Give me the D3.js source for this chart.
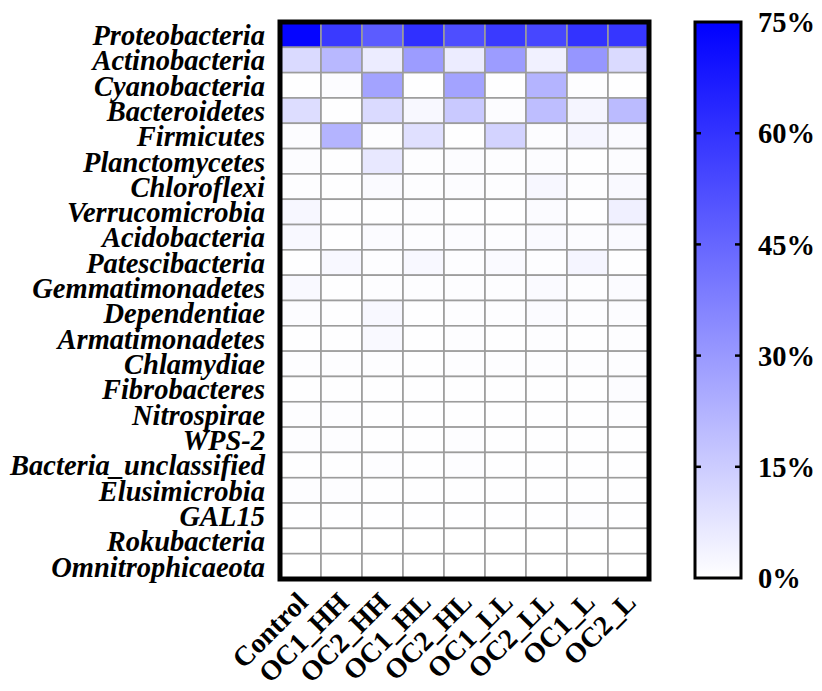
<!DOCTYPE html>
<html>
<head>
<meta charset="utf-8">
<script src="https://cdn.jsdelivr.net/npm/d3@7"></script>
<style>
  body { margin: 0; background: #fff; }
  text { font-family: "Liberation Serif", "Times New Roman", serif; font-weight: bold; }
</style>
</head>
<body>
<div id="chart"></div>
<script>
const groups = ["Control", "OC1_HH", "OC2_HH", "OC1_HL", "OC2_HL", "OC1_LL", "OC2_LL", "OC1_L", "OC2_L"];

const phyla = [
  "Proteobacteria", "Actinobacteria", "Cyanobacteria", "Bacteroidetes", "Firmicutes",
  "Planctomycetes", "Chloroflexi", "Verrucomicrobia", "Acidobacteria", "Patescibacteria",
  "Gemmatimonadetes", "Dependentiae", "Armatimonadetes", "Chlamydiae", "Fibrobacteres",
  "Nitrospirae", "WPS-2", "Bacteria_unclassified", "Elusimicrobia", "GAL15",
  "Rokubacteria", "Omnitrophicaeota"
];

// relative abundance (%), one array per phylum, in group order
const proteobacteria = [73.5, 58, 48, 61, 52, 58, 54, 60, 59];
const actinobacteria = [11, 21, 5.5, 29, 5.5, 29, 4, 31, 11];
const cyanobacteria = [0.3, 0.8, 27, 0.3, 27, 0.3, 22, 0.6, 0.4];
const bacteroidetes = [10, 0.4, 11, 2, 16, 0.9, 19, 3, 20];
const firmicutes = [0.9, 22, 0.6, 9, 0.3, 13, 0.9, 3, 1.5];
const planctomycetes = [0.9, 0.3, 6.8, 0.5, 0.8, 0.6, 1.0, 0.4, 0.9];
const chloroflexi = [0.5, 0.2, 1.5, 0.6, 0.8, 0.7, 2.4, 0.5, 1.8];
const verrucomicrobia = [2.4, 0.2, 0.4, 0.5, 0.4, 0.4, 1.2, 0.4, 4.5];
const acidobacteria = [2.0, 0.3, 1.2, 0.7, 1.0, 0.7, 1.4, 0.8, 1.5];
const patescibacteria = [0.4, 2.0, 0.5, 2.0, 0.5, 1.5, 0.6, 3.0, 0.4];
const gemmatimonadetes = [1.8, 0.3, 0.6, 0.5, 0.7, 0.5, 1.6, 0.6, 1.3];
const dependentiae = [0.9, 0.2, 2.0, 0.4, 0.6, 0.6, 1.1, 0.6, 1.0];
const armatimonadetes = [0.4, 0.2, 1.8, 0.3, 0.6, 0.4, 0.5, 0.3, 0.5];
const chlamydiae = [0.6, 0.5, 0.5, 0.4, 0.5, 0.5, 0.5, 0.5, 0.5];
const fibrobacteres = [0.3, 0.2, 0.3, 0.3, 0.4, 0.3, 0.4, 0.3, 0.8];
const nitrospirae = [0.5, 0.6, 0.3, 0.3, 0.4, 0.3, 0.4, 0.4, 0.5];
const wps2 = [0.6, 0.6, 0.3, 0.2, 0.5, 0.2, 0.4, 0.3, 0.4];
const bacteriaUnclassified = [0.3, 0.2, 0.5, 0.2, 0.5, 0.2, 0.4, 0.2, 0.4];
const elusimicrobia = [0.5, 0.5, 0.2, 0.2, 0.2, 0.2, 0.2, 0.2, 0.2];
const gal15 = [0.2, 0.2, 0.2, 0.2, 0.2, 0.2, 0.2, 0.5, 0.2];
const rokubacteria = [0.1, 0.1, 0.1, 0.1, 0.1, 0.1, 0.1, 0.1, 0.1];
const omnitrophicaeota = [0.1, 0.1, 0.1, 0.1, 0.1, 0.1, 0.1, 0.1, 0.1];

const abundance = [
  proteobacteria, actinobacteria, cyanobacteria, bacteroidetes, firmicutes,
  planctomycetes, chloroflexi, verrucomicrobia, acidobacteria, patescibacteria,
  gemmatimonadetes, dependentiae, armatimonadetes, chlamydiae, fibrobacteres,
  nitrospirae, wps2, bacteriaUnclassified, elusimicrobia, gal15,
  rokubacteria, omnitrophicaeota
];

const legendTicks = [0, 15, 30, 45, 60, 75];

const width = 822;
const height = 691;

const colorScale = d3.scaleLinear().domain([0, 75]).range(["#ffffff", "#0000ff"]).clamp(true);

drawChart();

function drawChart() {
  const svg = d3
    .select("#chart")
    .append("svg")
    .attr("width", width)
    .attr("height", height);

  const x = d3.scaleBand().domain(groups).range([280, 649]);
  const y = d3.scaleBand().domain(phyla).range([22, 579]);

  const cells = [];
  abundance.forEach((row, i) => {
    row.forEach((v, j) => {
      cells.push({ phylum: phyla[i], group: groups[j], value: v });
    });
  });

  svg
    .append("g")
    .selectAll("rect")
    .data(cells)
    .enter()
    .append("rect")
    .attr("x", (d) => x(d.group))
    .attr("y", (d) => y(d.phylum))
    .attr("width", x.bandwidth())
    .attr("height", y.bandwidth())
    .attr("fill", (d) => colorScale(d.value))
    .attr("stroke", "#9c9c9c")
    .attr("stroke-width", 1.6);

  // outer frame
  svg
    .append("rect")
    .attr("x", 280)
    .attr("y", 22)
    .attr("width", 369)
    .attr("height", 557)
    .attr("fill", "none")
    .attr("stroke", "#000")
    .attr("stroke-width", 5);

  // row labels
  svg
    .append("g")
    .selectAll("text")
    .data(phyla)
    .enter()
    .append("text")
    .attr("x", 265)
    .attr("y", (d) => y(d) + y.bandwidth() / 2)
    .attr("dy", "0.36em")
    .attr("text-anchor", "end")
    .style("font-style", "italic")
    .style("font-size", "28.5px")
    .text((d) => d);

  // column labels
  svg
    .append("g")
    .selectAll("text")
    .data(groups)
    .enter()
    .append("text")
    .attr("transform", (d) => {
      const cx = x(d) + x.bandwidth() / 2;
      return "translate(" + (cx + 9) + ",604) rotate(-45)";
    })
    .attr("text-anchor", "end")
    .style("font-size", "28px")
    .text((d) => d);

  drawLegend(svg);
}

function drawLegend(svg) {
  const top = 22;
  const bottom = 578;
  const left = 695;
  const right = 741;
  const scale = d3.scaleLinear().domain([0, 75]).range([bottom, top]);

  const grad = svg
    .append("defs")
    .append("linearGradient")
    .attr("id", "legendGrad")
    .attr("x1", 0)
    .attr("y1", 1)
    .attr("x2", 0)
    .attr("y2", 0);
  d3.range(0, 76, 15).forEach((v) => {
    grad
      .append("stop")
      .attr("offset", v / 75)
      .attr("stop-color", colorScale(v));
  });

  svg
    .append("rect")
    .attr("x", left)
    .attr("y", top)
    .attr("width", right - left)
    .attr("height", bottom - top)
    .attr("fill", "url(#legendGrad)")
    .attr("stroke", "#000")
    .attr("stroke-width", 3);

  const inner = legendTicks.filter((t) => t > 0 && t < 75);
  const tickG = svg.append("g").attr("stroke", "#000").attr("stroke-width", 2.5);
  tickG
    .selectAll(".tl")
    .data(inner)
    .enter()
    .append("line")
    .attr("x1", left)
    .attr("x2", left + 6)
    .attr("y1", (d) => scale(d))
    .attr("y2", (d) => scale(d));
  tickG
    .selectAll(".tr")
    .data(inner)
    .enter()
    .append("line")
    .attr("x1", right - 6)
    .attr("x2", right)
    .attr("y1", (d) => scale(d))
    .attr("y2", (d) => scale(d));

  svg
    .append("g")
    .selectAll("text")
    .data(legendTicks)
    .enter()
    .append("text")
    .attr("x", 758)
    .attr("y", (d) => scale(d))
    .attr("dy", "0.36em")
    .style("font-size", "28.5px")
    .text((d) => d + "%");
}
</script>
</body>
</html>
